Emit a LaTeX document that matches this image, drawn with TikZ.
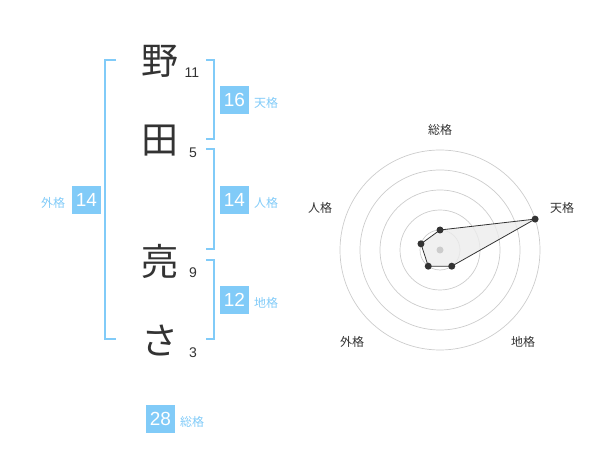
\documentclass[tikz,border=0pt]{standalone}
\usepackage{fontspec}
\setmainfont{Liberation Sans}
\newfontfamily\jpfont{Noto Sans CJK JP}
\definecolor{kakublue}{RGB}{129,203,248}
\definecolor{txtgray}{RGB}{51,51,51}
\definecolor{ringgray}{RGB}{204,204,204}

\begin{document}
\begin{tikzpicture}[x=1pt, y=-1pt, outer sep=0pt]

\tikzstyle{kanji}=[font=\jpfont\fontsize{37}{37}\selectfont, text=txtgray, inner sep=0pt]
\tikzstyle{strokes}=[font=\fontsize{14}{14}\selectfont, text=txtgray, inner sep=0pt]
\tikzstyle{kaku}=[fill=kakublue, text=white, font=\fontsize{19}{19}\selectfont, minimum width=29pt, minimum height=28pt, inner sep=0pt]
\tikzstyle{kakuname}=[font=\jpfont\fontsize{12}{12}\selectfont, text=kakublue, inner sep=0pt, anchor=west]
\tikzstyle{bracket}=[draw=kakublue, line width=1.6pt]
\tikzstyle{ring}=[draw=ringgray, line width=0.7pt]
\tikzstyle{axisname}=[font=\jpfont\fontsize{12}{12}\selectfont, text=txtgray, inner sep=0pt]
\tikzstyle{dot}=[circle, fill=txtgray, minimum size=7pt, inner sep=0pt]

\useasboundingbox (0,0) rectangle (600,470);

% name and strokes
\node[kanji] (k1) at (160,61) {野}; \node[strokes] (n1) at (192,73) {11};
\node[kanji] (k2) at (160,141) {田}; \node[strokes] (n2) at (193,153) {5};
\node[kanji] (k3) at (160,261) {亮}; \node[strokes] (n3) at (193,273) {9};
\node[kanji] (k4) at (160,341) {さ}; \node[strokes] (n4) at (193,353) {3};

% brackets
\draw[bracket] (116,60) -- (105,60) -- (105,339) -- (116,339);
\draw[bracket] (206,60) -- (214,60) -- (214,139) -- (206,139);
\draw[bracket] (206,149) -- (214,149) -- (214,249) -- (206,249);
\draw[bracket] (206,260) -- (214,260) -- (214,339) -- (206,339);

% kaku values
\node[kaku] (ten) at (234.5,100) {16}; \node[kakuname] (tenname) at (254,102.5) {天格};
\node[kaku] (jin) at (234.5,200) {14}; \node[kakuname] (jinname) at (254,202.5) {人格};
\node[kaku] (chi) at (234.5,300) {12}; \node[kakuname] (chiname) at (254,302.5) {地格};
\node[kaku] (gai) at (86.5,200) {14}; \node[kakuname] (gainame) at (41,202.5) {外格};
\node[kaku] (sou) at (160.5,419) {28}; \node[kakuname] (souname) at (180,421.5) {総格};

% radar chart
\begin{scope}[shift={(440,250)}]
\foreach \r in {20,40,60,80,100} \draw[ring] (0,0) circle (\r);
\coordinate (rSou) at (-90:20);
\coordinate (rTen) at (-18:100);
\coordinate (rChi) at (54:20);
\coordinate (rGai) at (126:20);
\coordinate (rJin) at (-162:20);
\filldraw[fill=gray!15, fill opacity=0.8, draw=txtgray, line width=0.8pt] (rSou) -- (rTen) -- (rChi) -- (rGai) -- (rJin) -- cycle;
\node[circle, fill=ringgray, minimum size=7pt, inner sep=0pt] (mid) at (0,0) {};
\node[dot] (dSou) at (rSou) {}; \node[dot] (dTen) at (rTen) {}; \node[dot] (dChi) at (rChi) {};
\node[dot] (dGai) at (rGai) {}; \node[dot] (dJin) at (rJin) {};
\end{scope}

\node[axisname] (aSou) at (440,130) {総格};
\node[axisname] (aTen) at (562,208) {天格};
\node[axisname] (aJin) at (320,208) {人格};
\node[axisname] (aGai) at (352,342) {外格};
\node[axisname] (aChi) at (523,342) {地格};

\end{tikzpicture}
\end{document}
